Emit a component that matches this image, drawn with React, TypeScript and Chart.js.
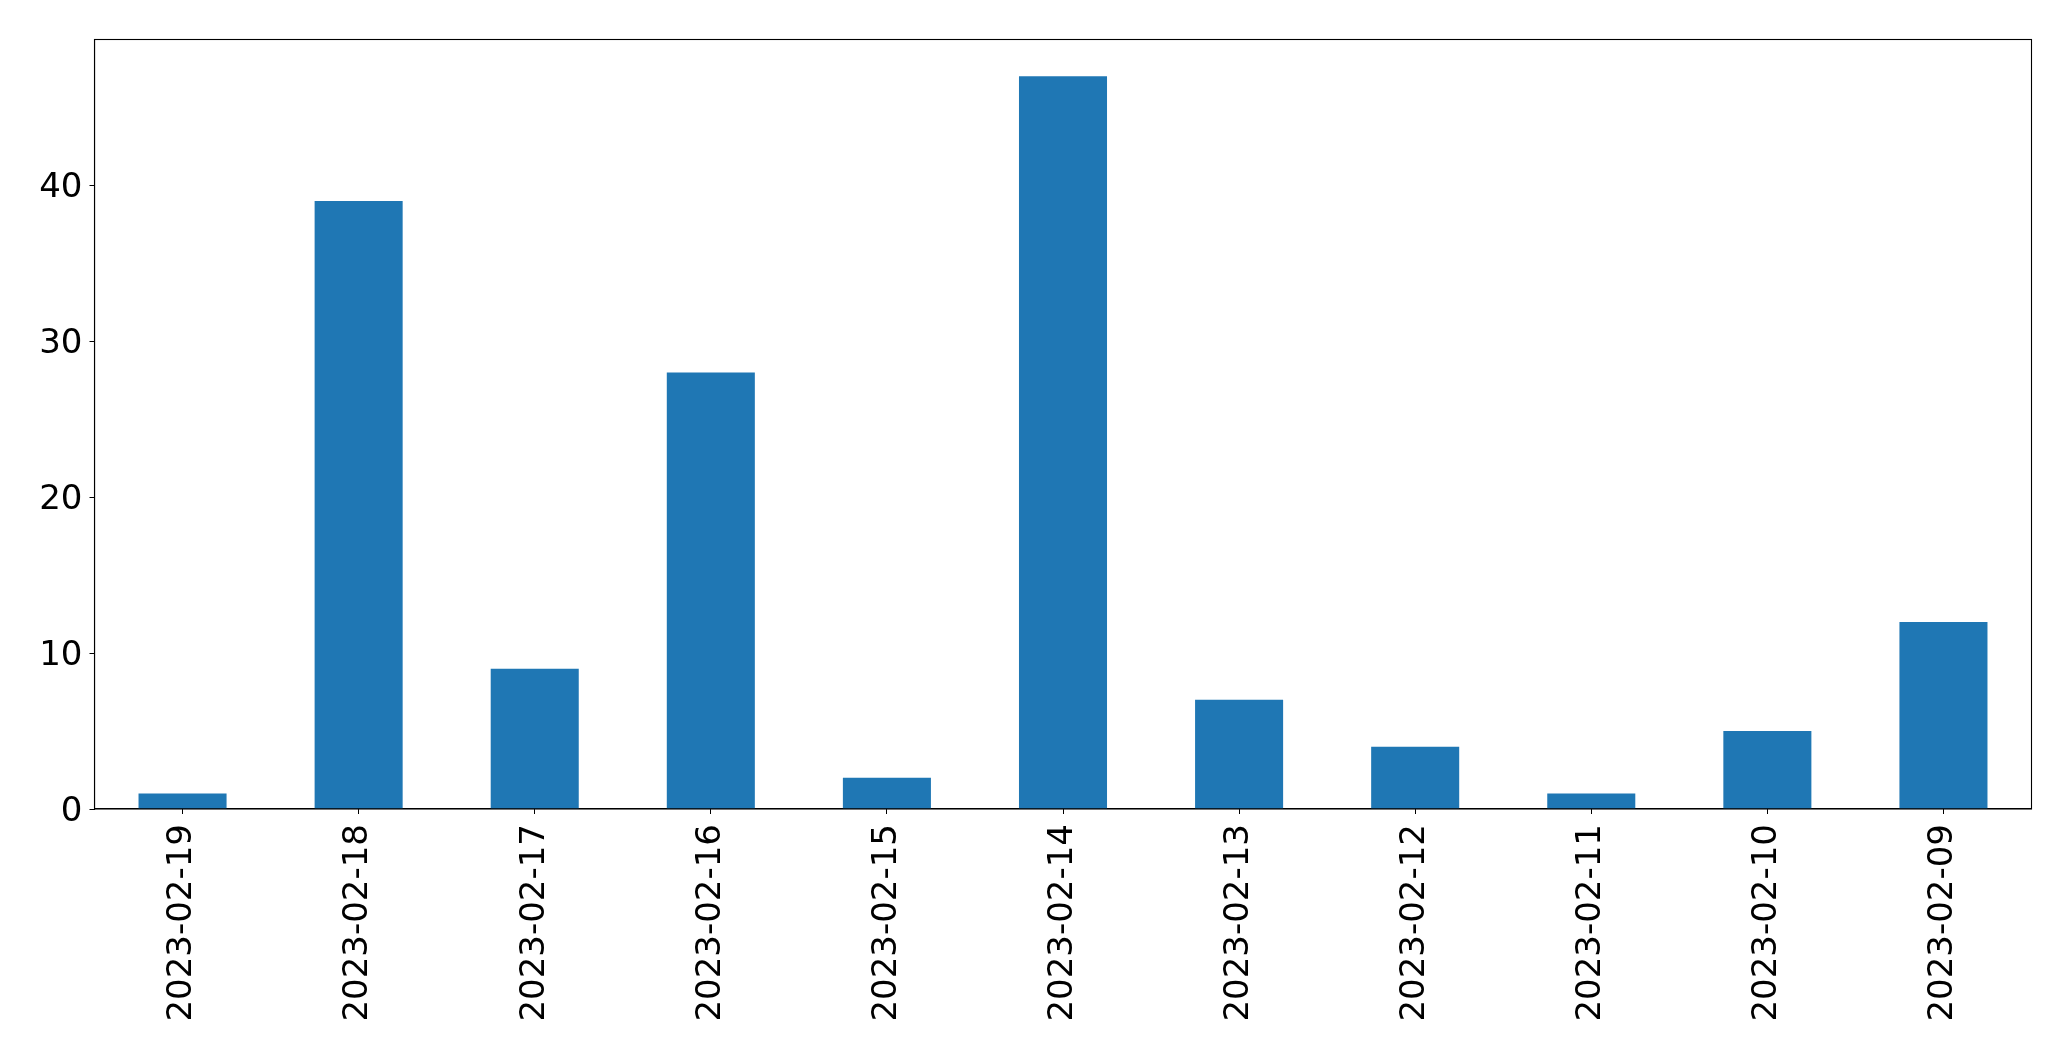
import React, { useEffect, useRef } from "react";
import { Chart, registerables } from "chart.js";

Chart.register(...registerables);

const categories = [
  "2023-02-19",
  "2023-02-18",
  "2023-02-17",
  "2023-02-16",
  "2023-02-15",
  "2023-02-14",
  "2023-02-13",
  "2023-02-12",
  "2023-02-11",
  "2023-02-10",
  "2023-02-09",
];
const counts = [1, 39, 9, 28, 2, 47, 7, 4, 1, 5, 12];
const yTicks = [0, 10, 20, 30, 40];

const W = 2071;
const H = 1061;
const PLOT_LEFT = 94.5;
const PLOT_TOP = 39.5;
const PLOT_RIGHT = 2031.5;
const PLOT_BOTTOM = 809;

const framePlugin = {
  id: "frame",
  afterDraw(chart: any) {
    const { ctx, chartArea } = chart;
    ctx.save();
    ctx.strokeStyle = "#000";
    ctx.lineWidth = 1.1;
    ctx.strokeRect(
      chartArea.left,
      chartArea.top,
      chartArea.right - chartArea.left,
      chartArea.bottom - chartArea.top
    );
    ctx.restore();
  },
};

export default function App() {
  const ref = useRef<HTMLCanvasElement | null>(null);

  useEffect(() => {
    document.body.style.margin = "0";
    if (!ref.current) return;
    const font = { family: "DejaVu Sans", size: 34 };
    const chart = new Chart(ref.current, {
      type: "bar",
      data: {
        labels: categories,
        datasets: [
          {
            data: counts,
            backgroundColor: "#1f77b4",
            borderWidth: 0,
            barPercentage: 0.5,
            categoryPercentage: 1,
          },
        ],
      },
      plugins: [framePlugin],
      options: {
        animation: false,
        responsive: false,
        maintainAspectRatio: false,
        devicePixelRatio: 1,
        layout: {
          padding: {
            left: 0,
            top: PLOT_TOP,
            right: W - PLOT_RIGHT,
            bottom: 0,
          },
        },
        plugins: {
          legend: { display: false },
          tooltip: { enabled: false },
        },
        scales: {
          x: {
            type: "category",
            offset: true,
            grid: {
              drawOnChartArea: false,
              drawTicks: true,
              tickLength: 5,
              color: "#000",
              offset: false,
            },
            border: { display: true, color: "#000", width: 1.1 },
            ticks: {
              color: "#000",
              font,
              maxRotation: 90,
              minRotation: 90,
              autoSkip: false,
              padding: 10,
            },
            afterFit(scale: any) {
              scale.height = H - PLOT_BOTTOM;
            },
          },
          y: {
            min: 0,
            max: 49.35,
            grid: {
              drawOnChartArea: false,
              drawTicks: true,
              tickLength: 5,
              color: "#000",
            },
            border: { display: true, color: "#000", width: 1.1 },
            ticks: {
              color: "#000",
              font,
              stepSize: 10,
              padding: 7,
              labelOffset: 3,
            },
            afterBuildTicks(scale: any) {
              scale.ticks = yTicks.map((v) => ({ value: v }));
            },
            afterFit(scale: any) {
              scale.width = PLOT_LEFT;
            },
          },
        },
      },
    });
    return () => chart.destroy();
  }, []);

  return (
    <div style={{ width: W, height: H, overflow: "hidden", background: "#fff" }}>
      <canvas ref={ref} width={W} height={H} style={{ display: "block", width: W, height: H }} />
    </div>
  );
}
